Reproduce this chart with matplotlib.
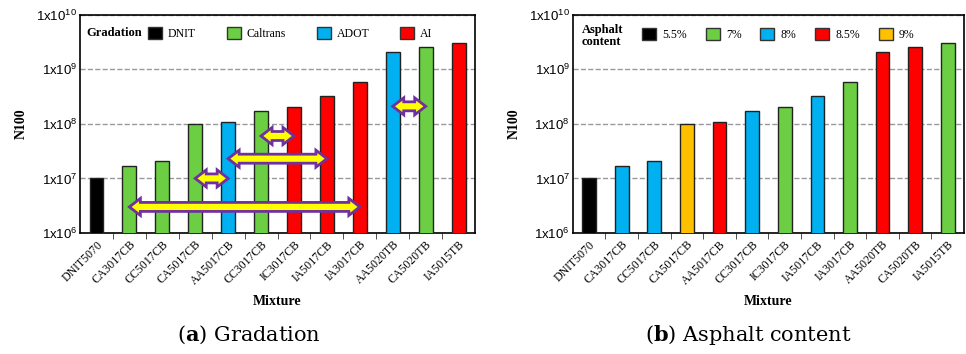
import matplotlib
matplotlib.use('Agg')
import matplotlib.pyplot as plt
from matplotlib.patches import Patch, Polygon
from matplotlib.transforms import IdentityTransform

plt.rcParams['mathtext.default'] = 'regular'
plt.rcParams['mathtext.fontset'] = 'custom'
plt.rcParams['mathtext.bf'] = 'DejaVu Serif:bold'

# data
mixtures = ['DNIT5070', 'CA3017CB', 'CC5017CB', 'CA5017CB', 'AA5017CB', 'CC3017CB',
            'IC3017CB', 'IA5017CB', 'IA3017CB', 'AA5020TB', 'CA5020TB', 'IA5015TB']
n100 = [1.0e7, 1.66e7, 2.1e7, 1.0e8, 1.1e8, 1.75e8,
        2.05e8, 3.25e8, 5.8e8, 2.1e9, 2.55e9, 3.0e9]
gradation = ['DNIT', 'Caltrans', 'Caltrans', 'Caltrans', 'ADOT', 'Caltrans',
             'AI', 'AI', 'AI', 'ADOT', 'Caltrans', 'AI']
asphalt = ['5.5%', '8%', '8%', '9%', '8.5%', '8%',
           '7%', '8%', '7%', '8.5%', '8.5%', '7%']
grad_levels = ['DNIT', 'Caltrans', 'ADOT', 'AI']
asph_levels = ['5.5%', '7%', '8%', '8.5%', '9%']
# double arrows in panel (a): (from index, to index, N100 level)
arrows = [(3, 4, 1.0e7), (4, 7, 2.3e7), (5, 6, 6.0e7), (1, 8, 3.0e6), (9, 10, 2.1e8)]

grad_colors = {'DNIT': '#000000', 'Caltrans': '#6CCF43', 'ADOT': '#00B0F0', 'AI': '#FF0000'}
asph_colors = {'5.5%': '#000000', '7%': '#6CCF43', '8%': '#00B0F0',
               '8.5%': '#FF0000', '9%': '#FFC000'}

serif = 'Liberation Serif'
sans = 'Liberation Sans'

fig = plt.figure(figsize=(9.66, 3.54), dpi=100)
ax_a = fig.add_axes([0.0828, 0.342, 0.409, 0.616])
ax_b = fig.add_axes([0.593, 0.342, 0.405, 0.616])


def draw_panel(ax, colors):
    x = range(len(mixtures))
    ax.set_yscale('log')
    ax.bar(x, n100, width=0.42, color=colors, edgecolor='#222222', linewidth=1.0,
           zorder=3)
    ax.set_ylim(1e6, 1e10)
    ax.set_xlim(-0.5, len(mixtures) - 0.5)
    ax.set_yticks([1e6, 1e7, 1e8, 1e9, 1e10])
    ax.set_yticklabels(['1x10$^{%d}$' % e for e in range(6, 11)],
                       fontfamily=sans, fontsize=9.5)
    ax.minorticks_off()
    ax.tick_params(axis='y', length=0, pad=2)
    ax.set_xticks(list(x))
    ax.set_xticklabels(mixtures, rotation=45, ha='right', va='top',
                       rotation_mode='anchor', fontfamily=serif, fontsize=8.5)
    ax.tick_params(axis='x', length=0, pad=4)
    # tick marks between categories
    ax.set_xticks([i + 0.5 for i in range(len(mixtures) - 1)], minor=True)
    ax.tick_params(axis='x', which='minor', length=4, direction='out', color='#333333')
    ax.yaxis.grid(True, linestyle='--', color='#999999', linewidth=1.0, zorder=0)
    for s in ax.spines.values():
        s.set_linewidth(1.2)
    ax.set_xlabel('Mixture', fontfamily=serif, fontweight='bold', fontsize=10, labelpad=6)
    ax.set_ylabel('N100', fontfamily=serif, fontweight='bold', fontsize=10, labelpad=6)


draw_panel(ax_a, [grad_colors[g] for g in gradation])
draw_panel(ax_b, [asph_colors[a] for a in asphalt])

# legends
h_a = [Patch(facecolor=grad_colors[g], edgecolor='#333333', linewidth=1) for g in grad_levels]
ax_a.text(0.015, 0.915, 'Gradation', transform=ax_a.transAxes, fontfamily=serif,
          fontweight='bold', fontsize=9, va='center', ha='left')
ax_a.legend(h_a, grad_levels, loc='center left', bbox_to_anchor=(0.16, 0.915), ncol=4,
            frameon=False, prop={'family': serif, 'size': 8.5}, handlelength=1.2,
            handleheight=1.2, columnspacing=2.6, handletextpad=0.5, borderaxespad=0)

h_b = [Patch(facecolor=asph_colors[a], edgecolor='#333333', linewidth=1) for a in asph_levels]
ax_b.text(0.022, 0.905, 'Asphalt\ncontent', transform=ax_b.transAxes, fontfamily=serif,
          fontweight='bold', fontsize=9, va='center', ha='left', linespacing=1.0)
ax_b.legend(h_b, asph_levels, loc='center left', bbox_to_anchor=(0.165, 0.91), ncol=5,
            frameon=False, prop={'family': serif, 'size': 8.5}, handlelength=1.2,
            handleheight=1.2, columnspacing=1.6, handletextpad=0.5, borderaxespad=0)

# double-headed arrows (pixel-sized shape, positioned in data coordinates)
fig.canvas.draw()
hl, hh, sh = 11, 8.5, 4.5
for i0, i1, yv in arrows:
    x0, yc = ax_a.transData.transform((i0, yv))
    x1, _ = ax_a.transData.transform((i1, yv))
    verts = [(x0, yc), (x0 + hl, yc + hh), (x0 + hl, yc + sh), (x1 - hl, yc + sh),
             (x1 - hl, yc + hh), (x1, yc), (x1 - hl, yc - hh), (x1 - hl, yc - sh),
             (x0 + hl, yc - sh), (x0 + hl, yc - hh)]
    ax_a.add_patch(Polygon(verts, closed=True, facecolor='#FFFF00', edgecolor='#7030A0',
                           linewidth=2.0, joinstyle='miter', transform=IdentityTransform(),
                           zorder=5, clip_on=False))

# captions
fig.text(0.258, 0.055, r'($\mathbf{a}$) Gradation', ha='center', va='center',
         fontfamily='DejaVu Serif', fontsize=15)
fig.text(0.775, 0.055, r'($\mathbf{b}$) Asphalt content', ha='center', va='center',
         fontfamily='DejaVu Serif', fontsize=15)

fig.savefig('out.png', dpi=100)
